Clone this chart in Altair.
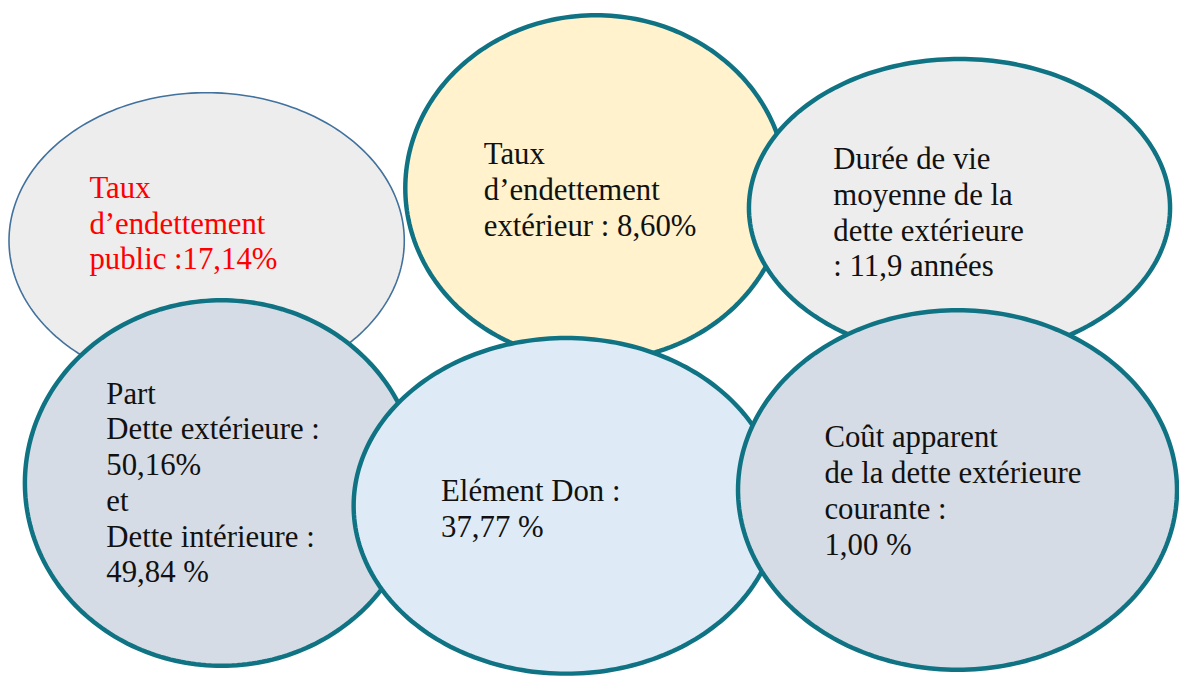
import altair as alt
import numpy as np

# ---- ellipses (pixel geometry of the diagram) ----
bubble_ids = ["public", "exterieur", "duree", "part", "don", "cout"]
centre_x = [208, 600, 966, 223, 570, 964]
centre_y = [240, 187, 207, 484, 507, 491]
radius_x = [199, 192, 212, 198, 214, 221]
radius_y = [149, 174, 150, 184, 169, 181]
fill_colors = ["#EDEDED", "#FFF2CC", "#EDEDED", "#D6DCE5", "#DEEBF7", "#D6DCE5"]
stroke_colors = ["#41719C", "#0F7384", "#0F7384", "#0F7384", "#0F7384", "#0F7384"]
stroke_widths = [1.6, 4.5, 4.5, 4.5, 4.5, 4.5]

# ---- labels ----
labels = [
    "Taux\nd’endettement\npublic :17,14%",
    "Taux\nd’endettement\nextérieur : 8,60%",
    "Durée de vie\nmoyenne de la\ndette extérieure\n: 11,9 années",
    "Part\nDette extérieure :\n50,16%\net\nDette intérieure :\n49,84 %",
    "Elément Don :\n37,77 %",
    "Coût apparent\nde la dette extérieure\ncourante :\n1,00 %",
]
label_x = [90, 487, 839, 107, 444, 830]
label_y = [197, 163, 168, 404, 502, 448]
label_colors = ["#FF0000", "#111111", "#111111", "#111111", "#111111", "#111111"]

# build GeoJSON ellipse outlines
t = np.linspace(0, 2 * np.pi, 241)
features = []
for i, name in enumerate(bubble_ids):
    ring = [[float(centre_x[i] + radius_x[i] * np.cos(a)),
             float(centre_y[i] + radius_y[i] * np.sin(a))] for a in t]
    features.append({
        "type": "Feature",
        "geometry": {"type": "Polygon", "coordinates": [ring]},
        "properties": {"name": name, "fill": fill_colors[i],
                       "stroke": stroke_colors[i], "sw": stroke_widths[i]},
    })

label_rows = [
    {"label": labels[i], "x": label_x[i], "y": label_y[i], "color": label_colors[i]}
    for i in range(len(labels))
]

shapes = alt.Chart(alt.Data(values=features)).mark_geoshape().encode(
    fill=alt.Fill("properties.fill:N", scale=None),
    stroke=alt.Stroke("properties.stroke:N", scale=None),
    strokeWidth=alt.StrokeWidth("properties.sw:Q", scale=None),
).project(type="identity", scale=1, translate=[-8, -8])

texts = alt.Chart(alt.Data(values=label_rows)).mark_text(
    align="left", baseline="alphabetic", lineBreak="\n", lineHeight=36,
    font="Liberation Serif", fontSize=31,
).encode(
    longitude="x:Q",
    latitude="y:Q",
    text="label:N",
    color=alt.Color("color:N", scale=None),
).project(type="identity", scale=1, translate=[-8, -8])

chart = alt.layer(shapes, texts).properties(
    width=1179, height=670, padding=0,
    autosize=alt.AutoSizeParams(type="none"),
    background="#FFFFFF",
).configure_view(stroke=None)

chart.save("out.html", embed_options={"renderer": "svg", "actions": False})
